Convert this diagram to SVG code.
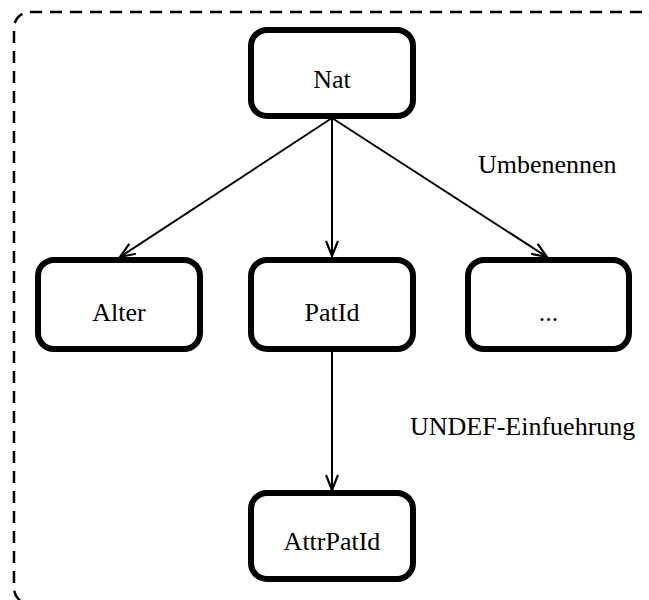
<svg xmlns="http://www.w3.org/2000/svg" width="649" height="600" viewBox="0 0 649 600">
  <style>
    .node { fill: #ffffff; stroke: #000000; stroke-width: 6; }
    .label { font-family: "Liberation Serif", "Times New Roman", serif; font-size: 26px; fill: #000000; }
    .edge { fill: none; stroke: #000000; stroke-width: 2; marker-end: url(#arrow); }
    .frame { fill: none; stroke: #000000; stroke-width: 2.5; stroke-dasharray: 12 8; }
  </style>
  <defs>
    <marker id="arrow" markerWidth="20" markerHeight="14" refX="16" refY="7" orient="auto" markerUnits="userSpaceOnUse">
      <path d="M1,1 L16,7 L1,13" fill="none" stroke="#000000" stroke-width="2.2"/>
    </marker>
  </defs>
  <rect width="649" height="600" fill="#ffffff"/>
  <rect id="frame" class="frame" x="14" y="12" width="642" height="592" rx="16" ry="16"/>

  <g id="connectors">
    <line class="edge" x1="332" y1="118" x2="120" y2="257"/>
    <line class="edge" x1="332" y1="118" x2="332" y2="256"/>
    <line class="edge" x1="332" y1="118" x2="547" y2="257"/>
    <line class="edge" x1="332" y1="351" x2="332" y2="490"/>
  </g>

  <g id="node-nat">
    <rect class="node" x="251" y="30" width="162" height="86" rx="16" ry="16"/>
    <text class="label" x="332" y="88" text-anchor="middle">Nat</text>
  </g>
  <g id="node-alter">
    <rect class="node" x="38" y="260" width="162" height="89" rx="16" ry="16"/>
    <text class="label" x="119" y="321" text-anchor="middle">Alter</text>
  </g>
  <g id="node-patid">
    <rect class="node" x="251" y="260" width="162" height="89" rx="16" ry="16"/>
    <text class="label" x="332" y="321" text-anchor="middle">PatId</text>
  </g>
  <g id="node-dots">
    <rect class="node" x="468" y="260" width="161" height="89" rx="16" ry="16"/>
    <text class="label" x="548.5" y="321" text-anchor="middle">...</text>
  </g>
  <g id="node-attrpatid">
    <rect class="node" x="251" y="493" width="162" height="86" rx="16" ry="16"/>
    <text class="label" x="332" y="550" text-anchor="middle">AttrPatId</text>
  </g>

  <text class="label" x="478" y="173">Umbenennen</text>
  <text class="label" x="410" y="435">UNDEF-Einfuehrung</text>
</svg>
